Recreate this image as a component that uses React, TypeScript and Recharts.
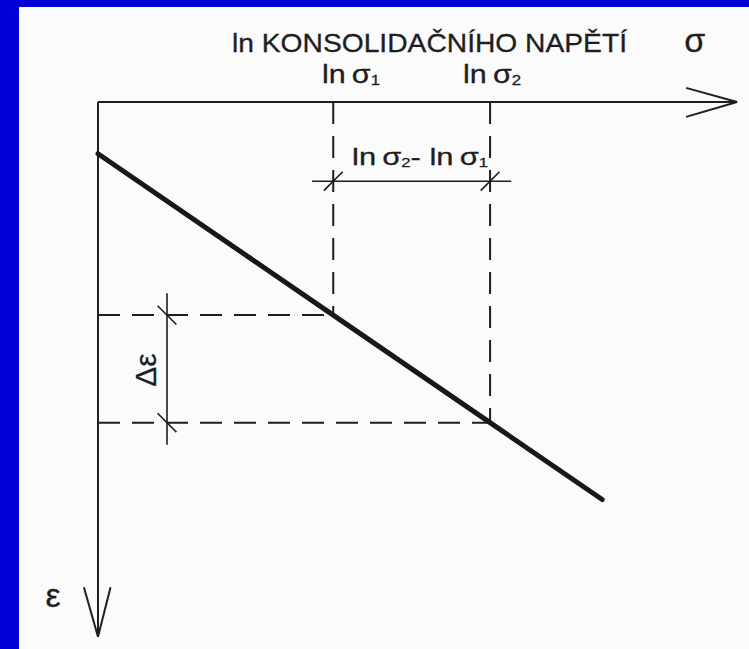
import React from "react";
import { LineChart, Line, XAxis, YAxis, ReferenceLine, ReferenceDot } from "recharts";

// Consolidation line: strain versus the natural log of the consolidation stress
const LN_SIGMA = [0, 3, 5, 6.43];
const STRAIN = [0.66, 2.718, 4.09, 5.07];

// Indices of the two marked stress states (ln σ1, ln σ2)
const IDX_1 = 1;
const IDX_2 = 2;

// Axis extents (arrow tips) and domains
const X_DOMAIN: [number, number] = [0, 8.2];
const Y_DOMAIN: [number, number] = [0, 6.9];
const X_TIP = 8.15;
const Y_TIP = 6.82;

// Text
const TITLE = "ln KONSOLIDAČNÍHO NAPĚTÍ";
const SIGMA = "σ";
const EPS = "ε";

const data = LN_SIGMA.map((x, i) => ({ lnSigma: x, strain: STRAIN[i] }));

const INK = "#1e1e1e";
const FONT = "'Liberation Sans', Arial, sans-serif";
const TEXT_STYLE = { fontFamily: FONT, fill: INK, stroke: INK, strokeWidth: 0.3 };

type Pt = { x: number; y: number };
const seg = (a: Pt, b: Pt): [Pt, Pt] => [a, b];

const textShape =
  (render: (cx: number, cy: number) => React.ReactElement) =>
  (p: any) =>
    render(p.cx, p.cy);

const LnSig = ({ cx, cy, sub, size, width }: { cx: number; cy: number; sub: string; size: number; width: number }) => (
  <text x={cx} y={cy} {...TEXT_STYLE} fontSize={size} textLength={width} lengthAdjust="spacingAndGlyphs">
    ln{"\u2009"}{SIGMA}
    <tspan fontSize={size * 0.55} dy={2}>{sub}</tspan>
  </text>
);

export default function App() {
  const x1 = LN_SIGMA[IDX_1];
  const x2 = LN_SIGMA[IDX_2];
  const e1 = STRAIN[IDX_1];
  const e2 = STRAIN[IDX_2];
  const t = 0.12; // half-size of dimension tick slashes
  const dimY = 1.01; // ε level of horizontal dimension line
  const dimX = 0.88; // ln σ position of vertical dimension line

  const solid = { stroke: INK, strokeWidth: 2, ifOverflow: "visible" as const };
  const dashed = { stroke: INK, strokeWidth: 2, strokeDasharray: "22 12", ifOverflow: "visible" as const };
  const thin = { stroke: INK, strokeWidth: 1.6, ifOverflow: "visible" as const };

  return (
    <div style={{ position: "absolute", left: 0, top: 0, width: 749, height: 649, background: "#0000d6" }}>
      <div style={{ position: "absolute", left: 19, top: 7, right: 0, bottom: 0, background: "#fbfbfb" }} />
      <div style={{ position: "absolute", left: 0, top: 0 }}>
        <LineChart width={749} height={649} data={data} margin={{ top: 102, left: 98, right: 8, bottom: 6 }}>
          <XAxis type="number" dataKey="lnSigma" domain={X_DOMAIN} hide />
          <YAxis type="number" domain={Y_DOMAIN} reversed hide />

          {/* axes with open arrowheads */}
          <ReferenceLine segment={seg({ x: 0, y: 0 }, { x: X_TIP, y: 0 })} {...solid} />
          <ReferenceLine segment={seg({ x: X_TIP - 0.65, y: -0.18 }, { x: X_TIP, y: 0 })} {...solid} />
          <ReferenceLine segment={seg({ x: X_TIP - 0.65, y: 0.19 }, { x: X_TIP, y: 0 })} {...solid} />
          <ReferenceLine segment={seg({ x: 0, y: 0 }, { x: 0, y: Y_TIP })} {...solid} />
          <ReferenceLine segment={seg({ x: -0.18, y: Y_TIP - 0.63 }, { x: 0, y: Y_TIP })} {...solid} />
          <ReferenceLine segment={seg({ x: 0.16, y: Y_TIP - 0.63 }, { x: 0, y: Y_TIP })} {...solid} />

          {/* projection lines */}
          <ReferenceLine segment={seg({ x: x1, y: 0 }, { x: x1, y: e1 })} {...dashed} />
          <ReferenceLine segment={seg({ x: x2, y: 0 }, { x: x2, y: e2 })} {...dashed} />
          <ReferenceLine segment={seg({ x: 0, y: e1 }, { x: x1, y: e1 })} {...dashed} />
          <ReferenceLine segment={seg({ x: 0, y: e2 }, { x: x2, y: e2 })} {...dashed} />

          {/* horizontal dimension: ln σ2 − ln σ1 */}
          <ReferenceLine segment={seg({ x: x1 - 0.27, y: dimY }, { x: x2 + 0.27, y: dimY })} {...thin} />
          <ReferenceLine segment={seg({ x: x1 - t, y: dimY + t }, { x: x1 + t, y: dimY - t })} {...thin} />
          <ReferenceLine segment={seg({ x: x2 - t, y: dimY + t }, { x: x2 + t, y: dimY - t })} {...thin} />

          {/* vertical dimension: Δε */}
          <ReferenceLine segment={seg({ x: dimX, y: e1 - 0.28 }, { x: dimX, y: e2 + 0.28 })} {...thin} />
          <ReferenceLine segment={seg({ x: dimX - t, y: e1 - t }, { x: dimX + t, y: e1 + t })} {...thin} />
          <ReferenceLine segment={seg({ x: dimX - t, y: e2 - t }, { x: dimX + t, y: e2 + t })} {...thin} />

          <Line
            type="linear"
            dataKey="strain"
            stroke="#181818"
            strokeWidth={5}
            strokeLinecap="round"
            dot={false}
            activeDot={false}
            isAnimationActive={false}
          />

          {/* labels */}
          <ReferenceDot
            x={1.709}
            y={-0.64}
            r={1}
            ifOverflow="visible"
            shape={textShape((cx, cy) => (
              <text x={cx} y={cy} {...TEXT_STYLE} fontSize={26} textLength={395} lengthAdjust="spacingAndGlyphs">
                {TITLE}
              </text>
            ))}
          />
          <ReferenceDot
            x={7.61}
            y={-0.64}
            r={1}
            ifOverflow="visible"
            shape={textShape((cx, cy) => (
              <text x={cx} y={cy} textAnchor="middle" {...TEXT_STYLE} fontSize={34}>
                {SIGMA}
              </text>
            ))}
          />
          <ReferenceDot
            x={2.857}
            y={-0.24}
            r={1}
            ifOverflow="visible"
            shape={textShape((cx, cy) => <LnSig cx={cx} cy={cy} sub="1" size={25} width={58} />)}
          />
          <ReferenceDot
            x={4.656}
            y={-0.24}
            r={1}
            ifOverflow="visible"
            shape={textShape((cx, cy) => <LnSig cx={cx} cy={cy} sub="2" size={25} width={58} />)}
          />
          <ReferenceDot
            x={3.24}
            y={0.8}
            r={1}
            ifOverflow="visible"
            shape={textShape((cx, cy) => (
              <text x={cx} y={cy} {...TEXT_STYLE} fontSize={24} textLength={136} lengthAdjust="spacingAndGlyphs">
                ln{"\u2009"}{SIGMA}
                <tspan fontSize={13} dy={2}>2</tspan>
                <tspan dy={-2}>- ln{"\u2009"}{SIGMA}</tspan>
                <tspan fontSize={13} dy={2}>1</tspan>
              </text>
            ))}
          />
          <ReferenceDot
            x={0.6}
            y={3.42}
            r={1}
            ifOverflow="visible"
            shape={textShape((cx, cy) => (
              <text
                x={cx}
                y={cy}
                transform={`rotate(-90 ${cx} ${cy})`}
                textAnchor="middle"
                dominantBaseline="central"
                {...TEXT_STYLE}
                fontSize={30}
              >
                Δ{EPS}
              </text>
            ))}
          />
          <ReferenceDot
            x={-0.574}
            y={6.44}
            r={1}
            ifOverflow="visible"
            shape={textShape((cx, cy) => (
              <text x={cx} y={cy} textAnchor="middle" {...TEXT_STYLE} fontSize={34}>
                {EPS}
              </text>
            ))}
          />
        </LineChart>
      </div>
    </div>
  );
}
